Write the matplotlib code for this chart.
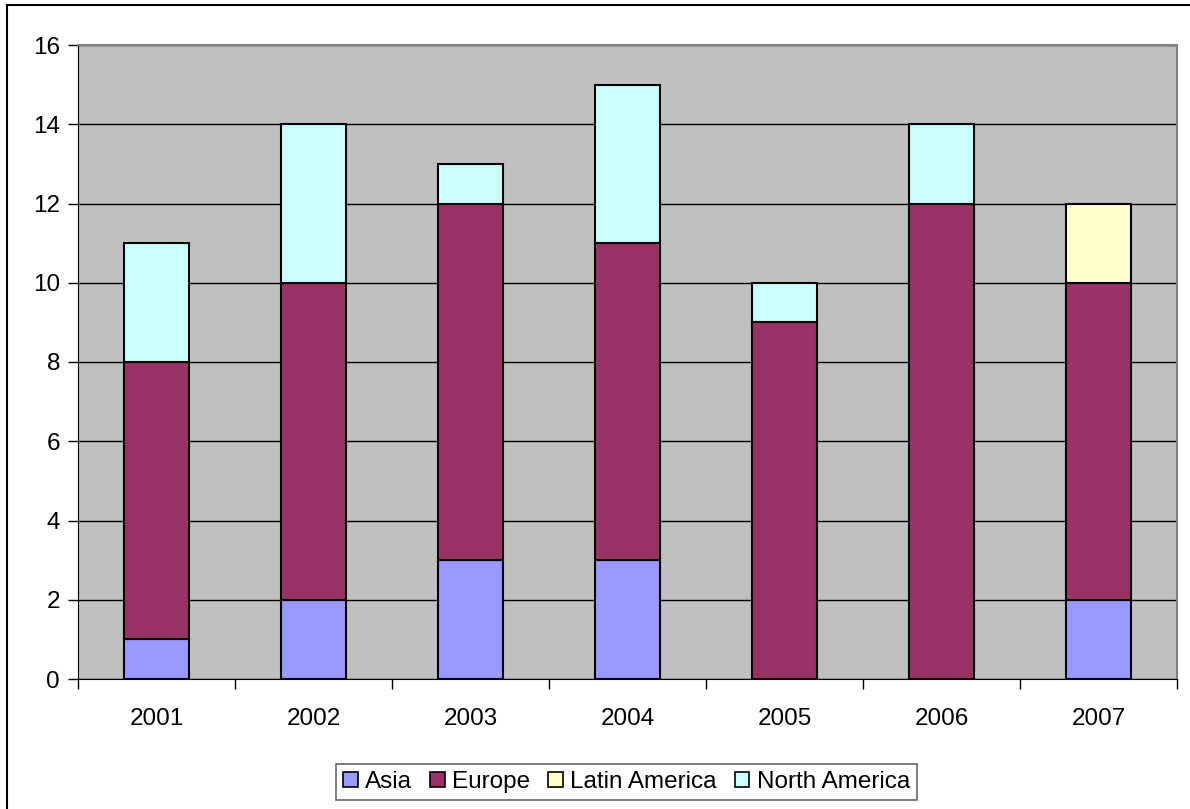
import numpy as np
import matplotlib.pyplot as plt
from matplotlib.patches import Rectangle

years = ["2001", "2002", "2003", "2004", "2005", "2006", "2007"]
asia = [1, 2, 3, 3, 0, 0, 2]
europe = [7, 8, 9, 8, 9, 12, 8]
latin_america = [0, 0, 0, 0, 0, 0, 2]
north_america = [3, 4, 1, 4, 1, 2, 0]

series = [
    ("Asia", asia, "#9999FF"),
    ("Europe", europe, "#993366"),
    ("Latin America", latin_america, "#FFFFCC"),
    ("North America", north_america, "#CCFFFF"),
]

plt.rcParams["font.family"] = ["Liberation Sans", "DejaVu Sans"]
fs = 17.5

fig = plt.figure(figsize=(11.9, 8.09), dpi=100)
ax = fig.add_axes([78 / 1190, 130 / 809, 1099 / 1190, 634 / 809])
ax.set_facecolor("#C0C0C0")

x = np.arange(len(years))
bottom = np.zeros(len(years))
handles = []
for name, vals, color in series:
    vals = np.array(vals, dtype=float)
    mask = vals > 0
    ax.bar(x[mask], vals[mask], width=0.41, bottom=bottom[mask], color=color,
           edgecolor="black", linewidth=1.5, zorder=3)
    handles.append(Rectangle((0, 0), 1, 1, facecolor=color, edgecolor="black", linewidth=1.2))
    bottom += vals

ax.set_xlim(-0.5, len(years) - 0.5)
ax.set_ylim(0, 16)
ax.set_yticks(range(0, 17, 2))
ax.yaxis.grid(True, color="black", linewidth=1)
ax.set_axisbelow(True)

ax.set_xticks(x)
ax.set_xticklabels(years, fontsize=fs)
ax.tick_params(axis="x", length=0, pad=21)
ax.set_xticks(np.arange(-0.5, len(years)), minor=True)
ax.tick_params(axis="x", which="minor", length=7, width=1, direction="out")
ax.tick_params(axis="y", labelsize=fs, length=7, width=1, pad=6)

for side in ["top", "right"]:
    ax.spines[side].set_color("#808080")
    ax.spines[side].set_linewidth(1.5)
ax.spines["left"].set_color("black")
ax.spines["bottom"].set_color("black")

leg = fig.legend(handles, [s[0] for s in series], loc="center",
                 bbox_to_anchor=(626.5 / 1190, 27 / 809), ncol=4, fontsize=fs,
                 frameon=True, fancybox=False, handlelength=0.6, handleheight=0.6,
                 handletextpad=0.3, columnspacing=0.75, borderpad=0.3,
                 borderaxespad=0)
leg.get_frame().set_edgecolor("#404040")
leg.get_frame().set_linewidth(1.2)

# chart border
fig.patches.append(Rectangle((7 / 1190, -0.01), 1.0, 1.0 - 5 / 809 + 0.01,
                             transform=fig.transFigure, fill=False,
                             edgecolor="black", linewidth=1.5))

fig.savefig("out.png", dpi=100)
